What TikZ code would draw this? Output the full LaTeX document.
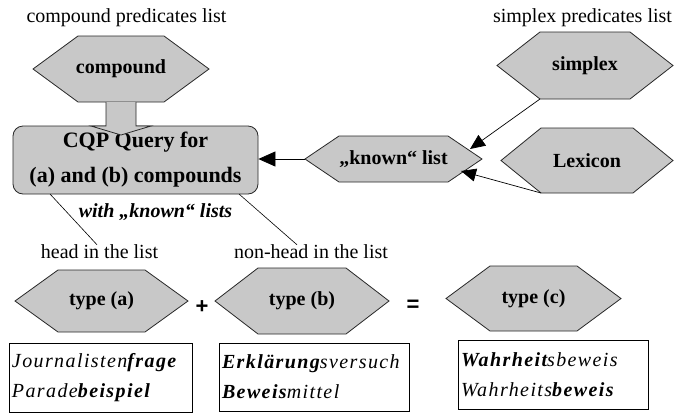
\documentclass[tikz,border=0pt]{standalone}
\usepackage{fontspec}
\setmainfont{Liberation Serif}
\setsansfont{Liberation Sans}
\usetikzlibrary{arrows.meta,calc}
\definecolor{hexgray}{RGB}{200,200,200}
\definecolor{edgegray}{RGB}{40,40,40}
\newcommand\myhex[7]{%
  \draw[hexshape] ({#2-#4/2},#3) -- ({#2-#4/2+#6},{#3-#5/2}) -- ({#2+#4/2-#6},{#3-#5/2}) -- ({#2+#4/2},#3) -- ({#2+#4/2-#6},{#3+#5/2}) -- ({#2-#4/2+#6},{#3+#5/2}) -- cycle;
  \node[hexlabel] (#1) at (#2,#3) {#7};
  \coordinate (#1-l) at ({#2-#4/2},#3);
  \coordinate (#1-r) at ({#2+#4/2},#3);
  \coordinate (#1-bl) at ({#2-#4/2+#6},{#3+#5/2});
  \coordinate (#1-b) at (#2,{#3+#5/2});
}
\newcommand\myspaced[1]{{\addfontfeature{LetterSpace=7}#1}}
\begin{document}
\begin{tikzpicture}[x=1pt,y=-1pt,
  hexshape/.style={fill=hexgray,draw=edgegray,line width=0.8pt,line join=miter},
  hexlabel/.style={font=\fontsize{20pt}{24pt}\selectfont\bfseries,inner sep=0pt},
  plainlabel/.style={font=\fontsize{20pt}{24pt}\selectfont,inner sep=0pt},
  opsign/.style={font=\fontsize{22pt}{24pt}\selectfont\sffamily\bfseries,inner sep=0pt},
  examplebox/.style={draw=black,line width=0.8pt,align=left,anchor=center,inner xsep=3pt,inner ysep=0pt,
     font=\fontsize{20pt}{30pt}\selectfont\itshape},
  thin connector/.style={draw=black,line width=0.6pt},
  headarrow/.style={draw=black,line width=0.7pt,-{Triangle[length=15pt,width=13pt]}},
  bigarrow/.style={draw=black,line width=0.8pt,-{Triangle[length=17pt,width=15pt]}}
]
\useasboundingbox (0,0) rectangle (674,413);

% top labels
\node[plainlabel] (cplist) at (126.5,18) {compound predicates list};
\node[plainlabel] (splist) at (582.5,18) {simplex predicates list};

% hexagons
\myhex{compound}{121}{69}{176}{66}{45}{compound}
\myhex{simplex}{585}{65.5}{176}{67}{43}{simplex}
\myhex{lexicon}{587}{160.5}{172}{65}{40}{Lexicon}
\myhex{known}{393.5}{159}{177}{46}{34}{„known“ list}

% CQP box
\node[draw=edgegray,fill=hexgray,line width=0.8pt,rounded corners=10pt,minimum width=245pt,minimum height=68pt,
      inner sep=0pt,align=center,font=\fontsize{22pt}{35pt}\selectfont\bfseries] (cqp) at (135.5,160)
      {CQP Query for\\(a) and (b) compounds};

% thick arrow from compound to CQP box
\draw[fill=hexgray,draw=edgegray,line width=0.8pt,line join=miter]
  ($(compound-b)+(-15,0)$) -- ($(compound-b)+(-15,24)$) -- ($(compound-b)+(-30,24)$) --
  ($(compound-b)+(0,33)$) -- ($(compound-b)+(30,24)$) -- ($(compound-b)+(15,24)$) --
  ($(compound-b)+(15,0)$);

% arrows into known list
\coordinate (known-ne) at (470,149);
\coordinate (known-se) at (461,171);
\draw[headarrow] (simplex-bl) -- (known-ne);
\draw[headarrow] (lexicon-bl) -- (known-se);
\draw[bigarrow] (known-l) -- (known-l -| cqp.east);

% with known lists
\node[plainlabel,font=\fontsize{20pt}{24pt}\selectfont\bfseries\itshape] (withlabel) at (155.5,212) {with „known“ lists};
\node[plainlabel] (headlabel) at (99.5,252) {head in the list};
\node[plainlabel] (nonheadlabel) at (311,252) {non-head in the list};
\coordinate (cqp-b1) at (50,194);
\coordinate (cqp-b2) at (239,194);
\draw[thin connector] (cqp-b1) -- (headlabel.north -| 97,0);
\draw[thin connector] (cqp-b2) -- (nonheadlabel.north -| 297,0);

% types
\myhex{typea}{101.5}{301}{173}{62}{43}{type (a)}
\myhex{typeb}{302}{301}{174}{66}{43}{type (b)}
\myhex{typec}{533.5}{298.5}{175}{65}{44}{type (c)}
\node[opsign] (plus) at (202,307) {+};
\node[opsign] (equals) at (413,306) {=};

% example boxes
\node[examplebox,text width=177pt,minimum height=69pt] (boxa) at (100.5,377.5)
  {\myspaced{Journalisten\textbf{frage}}\\\myspaced{Parade\textbf{beispiel}}};
\node[examplebox,text width=184pt,minimum height=68pt] (boxb) at (314,377)
  {\myspaced{\textbf{Erklärung}sversuch}\\\myspaced{\textbf{Beweis}mittel}};
\node[examplebox,text width=184pt,minimum height=69pt] (boxc) at (553,374.5)
  {\myspaced{\textbf{Wahrheit}sbeweis}\\\myspaced{Wahrheits\textbf{beweis}}};
\end{tikzpicture}
\end{document}
